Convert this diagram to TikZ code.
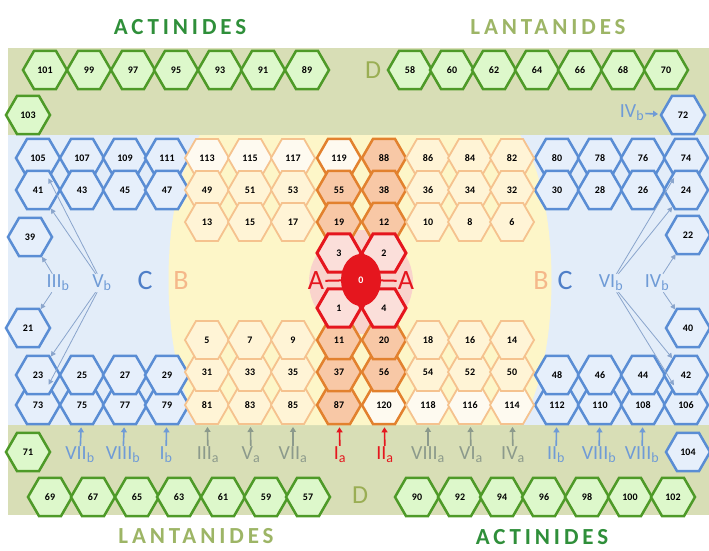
\documentclass[tikz,border=0pt]{standalone}
\usepackage{fontspec}
\setmainfont{Carlito}
\newfontfamily\titlefont[LetterSpace=17]{Carlito}
\usetikzlibrary{shapes.geometric,arrows.meta}

\definecolor{bandtan}{HTML}{D8DEB6}
\definecolor{bluezone}{HTML}{E3EDF9}
\definecolor{yellowzone}{HTML}{FDF6C8}
\definecolor{pinkzone}{HTML}{F9D3CC}
\definecolor{hexgreen}{HTML}{4E9A28}
\definecolor{hexgreenfill}{HTML}{DDF8CB}
\definecolor{hexblue}{HTML}{5A8DD4}
\definecolor{hexbluefill}{HTML}{E6EFFB}
\definecolor{orline}{HTML}{F5C28E}
\definecolor{orfill}{HTML}{FFF4D6}
\definecolor{orpalefill}{HTML}{FEFAF0}
\definecolor{darkorline}{HTML}{E2812E}
\definecolor{darkorfill}{HTML}{F8C8A6}
\definecolor{redline}{HTML}{E5161E}
\definecolor{redfill}{HTML}{FBDFDA}
\definecolor{actgreen}{HTML}{2F8F3A}
\definecolor{lantgreen}{HTML}{9DB566}
\definecolor{dolive}{HTML}{9AAE54}
\definecolor{lblblue}{HTML}{6F9BD6}
\definecolor{lblgrey}{HTML}{8C9A8C}
\definecolor{cblue}{HTML}{4F7FC8}
\definecolor{borange}{HTML}{F5B88A}
\definecolor{linkblue}{HTML}{8AA5CC}

\newcommand{\grp}[2]{#1\textsubscript{#2}}

\tikzset{
  hex/.style={regular polygon, regular polygon sides=6, minimum size=44pt,
    inner sep=0pt, line width=2.5pt, font=\bfseries\fontsize{10}{10}\selectfont},
  greenhex/.style={hex, draw=hexgreen, fill=hexgreenfill},
  bluehex/.style={hex, draw=hexblue, fill=hexbluefill},
  orhex/.style={hex, draw=orline, fill=orfill, line width=1.8pt},
  orpale/.style={orhex, fill=orpalefill},
  darkor/.style={hex, draw=darkorline, fill=darkorfill},
  darkorpale/.style={darkor, fill=orpalefill},
  redhex/.style={hex, draw=redline, fill=redfill, line width=3pt},
  title/.style={font=\titlefont\bfseries\fontsize{23}{23}\selectfont},
  grplabel/.style={font=\fontsize{20}{20}\selectfont, inner sep=1pt},
  biglabel/.style={font=\fontsize{28}{28}\selectfont, inner sep=1pt},
  uparrow/.style={-{Triangle[width=6pt,length=5pt]}, line width=1.6pt, shorten >=2pt},
  linkarrow/.style={-{Triangle[width=5pt,length=5pt]}, line width=0.8pt, draw=linkblue}
}

\begin{document}
\begin{tikzpicture}[x=1pt,y=-1pt]
\useasboundingbox (0,0) rectangle (709,550);

\fill[bandtan] (8,48) rectangle (709,515);
\fill[bluezone] (8,135) rectangle (709,425);
\fill[yellowzone] (200,135) .. controls (158,200) and (158,360) .. (200,425)
  -- (520,425) .. controls (562,360) and (562,200) .. (520,135) -- cycle;
\fill[pinkzone] (361,282) circle (52);

\node[title, text=actgreen] (actTop) at (180,27) {ACTINIDES};
\node[title, text=lantgreen] (lantTop) at (548,27) {LANTANIDES};
\node[title, text=lantgreen] (lantBot) at (196,536) {LANTANIDES};
\node[title, text=actgreen] (actBot) at (542,537) {ACTINIDES};

\node[greenhex] (n101) at (45,70) {101};
\node[greenhex] (n99) at (89,70) {99};
\node[greenhex] (n97) at (133,70) {97};
\node[greenhex] (n95) at (176,70) {95};
\node[greenhex] (n93) at (220,70) {93};
\node[greenhex] (n91) at (263,70) {91};
\node[greenhex] (n89) at (307,70) {89};
\node[greenhex] (n103) at (28,115) {103};

\node[greenhex] (n58) at (410,70) {58};
\node[greenhex] (n60) at (452,70) {60};
\node[greenhex] (n62) at (494,70) {62};
\node[greenhex] (n64) at (537,70) {64};
\node[greenhex] (n66) at (580,70) {66};
\node[greenhex] (n68) at (623,70) {68};
\node[greenhex] (n70) at (666,70) {70};

\node[greenhex] (n71) at (28,452) {71};
\node[greenhex] (n69) at (50,497) {69};
\node[greenhex] (n67) at (93,497) {67};
\node[greenhex] (n65) at (137,497) {65};
\node[greenhex] (n63) at (179,497) {63};
\node[greenhex] (n61) at (223,497) {61};
\node[greenhex] (n59) at (266,497) {59};
\node[greenhex] (n57) at (308,497) {57};

\node[greenhex] (n90) at (417,497) {90};
\node[greenhex] (n92) at (460,497) {92};
\node[greenhex] (n94) at (502,497) {94};
\node[greenhex] (n96) at (544,497) {96};
\node[greenhex] (n98) at (587,497) {98};
\node[greenhex] (n100) at (630,497) {100};
\node[greenhex] (n102) at (673,497) {102};

\node[text=dolive, font=\fontsize{26}{26}\selectfont] (dTop) at (373,70) {D};
\node[text=dolive, font=\fontsize{26}{26}\selectfont] (dBot) at (360,495) {D};

\node[bluehex] (n72) at (683,115) {72};
\node[grplabel, text=lblblue] (lIVbTop) at (632,113) {\grp{IV}{b}};

\node[bluehex] (n105) at (38,158) {105};
\node[bluehex] (n107) at (82,158) {107};
\node[bluehex] (n109) at (125,158) {109};
\node[bluehex] (n111) at (167,158) {111};
\node[bluehex] (n41) at (38,190) {41};
\node[bluehex] (n43) at (82,190) {43};
\node[bluehex] (n45) at (125,190) {45};
\node[bluehex] (n47) at (167,190) {47};
\node[bluehex] (n39) at (30,237) {39};
\node[bluehex] (n21) at (28,328) {21};
\node[bluehex] (n73) at (38,405) {73};
\node[bluehex] (n75) at (82,405) {75};
\node[bluehex] (n77) at (125,405) {77};
\node[bluehex] (n79) at (167,405) {79};
\node[bluehex] (n23) at (38,375) {23};
\node[bluehex] (n25) at (82,375) {25};
\node[bluehex] (n27) at (125,375) {27};
\node[bluehex] (n29) at (167,375) {29};

\node[bluehex] (n80) at (557,158) {80};
\node[bluehex] (n78) at (600,158) {78};
\node[bluehex] (n76) at (643,158) {76};
\node[bluehex] (n74) at (686,158) {74};
\node[bluehex] (n30) at (557,190) {30};
\node[bluehex] (n28) at (600,190) {28};
\node[bluehex] (n26) at (643,190) {26};
\node[bluehex] (n24) at (686,190) {24};
\node[bluehex] (n22) at (688,235) {22};
\node[bluehex] (n40) at (688,328) {40};
\node[bluehex] (n112) at (557,405) {112};
\node[bluehex] (n110) at (600,405) {110};
\node[bluehex] (n108) at (643,405) {108};
\node[bluehex] (n106) at (686,405) {106};
\node[bluehex] (n48) at (557,375) {48};
\node[bluehex] (n46) at (600,375) {46};
\node[bluehex] (n44) at (643,375) {44};
\node[bluehex] (n42) at (686,375) {42};
\node[bluehex] (n104) at (688,452) {104};

\node[orpale] (n113) at (207,158) {113};
\node[orpale] (n115) at (250,158) {115};
\node[orpale] (n117) at (293,158) {117};
\node[darkorpale] (n119) at (339,158) {119};
\node[darkor] (n88) at (384,158) {88};
\node[orhex] (n86) at (428,158) {86};
\node[orhex] (n84) at (470,158) {84};
\node[orhex] (n82) at (512,158) {82};

\node[orhex] (n49) at (207,190) {49};
\node[orhex] (n51) at (250,190) {51};
\node[orhex] (n53) at (293,190) {53};
\node[darkor] (n55) at (339,190) {55};
\node[darkor] (n38) at (384,190) {38};
\node[orhex] (n36) at (428,190) {36};
\node[orhex] (n34) at (470,190) {34};
\node[orhex] (n32) at (512,190) {32};

\node[orhex] (n13) at (207,222) {13};
\node[orhex] (n15) at (250,222) {15};
\node[orhex] (n17) at (293,222) {17};
\node[darkor] (n19) at (339,222) {19};
\node[darkor] (n12) at (384,222) {12};
\node[orhex] (n10) at (428,222) {10};
\node[orhex] (n8) at (470,222) {8};
\node[orhex] (n6) at (512,222) {6};

\node[orhex] (n81) at (207,405) {81};
\node[orhex] (n83) at (250,405) {83};
\node[orhex] (n85) at (293,405) {85};
\node[darkor] (n87) at (339,405) {87};
\node[darkorpale] (n120) at (384,405) {120};
\node[orpale] (n118) at (428,405) {118};
\node[orpale] (n116) at (470,405) {116};
\node[orpale] (n114) at (512,405) {114};

\node[orhex] (n31) at (207,372) {31};
\node[orhex] (n33) at (250,372) {33};
\node[orhex] (n35) at (293,372) {35};
\node[darkor] (n37) at (339,372) {37};
\node[darkor] (n56) at (384,372) {56};
\node[orhex] (n54) at (428,372) {54};
\node[orhex] (n52) at (470,372) {52};
\node[orhex] (n50) at (512,372) {50};

\node[orhex] (n5) at (207,340) {5};
\node[orhex] (n7) at (250,340) {7};
\node[orhex] (n9) at (293,340) {9};
\node[darkor] (n11) at (339,340) {11};
\node[darkor] (n20) at (384,340) {20};
\node[orhex] (n18) at (428,340) {18};
\node[orhex] (n16) at (470,340) {16};
\node[orhex] (n14) at (512,340) {14};

\node[redhex] (n3) at (339,253) {3};
\node[redhex] (n2) at (384,253) {2};
\node[redhex] (n1) at (339,308) {1};
\node[redhex] (n4) at (384,308) {4};
\node[ellipse, fill=redline, minimum width=40pt, minimum height=52pt, inner sep=0pt,
  text=white, font=\bfseries\fontsize{10}{10}\selectfont] (n0) at (361,280) {0};

\node[biglabel, text=redline] (lAL) at (316,281) {A};
\node[biglabel, text=redline] (lAR) at (406,281) {A};
\draw[redline, line width=2pt] (lAL) -- (n0);
\draw[redline, line width=2pt] (lAR) -- (n0);

\node[grplabel, text=lblblue] (lIIIb) at (58,283) {\grp{III}{b}};
\node[grplabel, text=lblblue] (lVb) at (102,283) {\grp{V}{b}};
\node[biglabel, text=cblue] (lCL) at (145,281) {C};
\node[biglabel, text=borange] (lBL) at (181,281) {B};
\node[biglabel, text=borange] (lBR) at (541,281) {B};
\node[biglabel, text=cblue] (lCR) at (565,281) {C};
\node[grplabel, text=lblblue] (lVIb) at (611,283) {\grp{VI}{b}};
\node[grplabel, text=lblblue] (lIVb) at (657,283) {\grp{IV}{b}};

\draw[linkarrow] (lIIIb) -- (n39);
\draw[linkarrow] (lIIIb) -- (n21);
\draw[linkarrow] (lVb) -- (n41);
\draw[linkarrow] (lVb) -- (n105);
\draw[linkarrow] (lVb) -- (n23);
\draw[linkarrow] (lVb) -- (n73);
\draw[linkarrow] (lIVb) -- (n22);
\draw[linkarrow] (lIVb) -- (n40);
\draw[linkarrow] (lVIb) -- (n24);
\draw[linkarrow] (lVIb) -- (n74);
\draw[linkarrow] (lVIb) -- (n42);
\draw[linkarrow] (lVIb) -- (n106);
\draw[uparrow, draw=lblblue] (lIVbTop) -- (n72);

\node[grplabel, text=lblblue] (gVIIb) at (80,455) {\grp{VII}{b}};
\node[grplabel, text=lblblue] (gVIIIbL) at (123,455) {\grp{VIII}{b}};
\node[grplabel, text=lblblue] (gIb) at (166,455) {\grp{I}{b}};
\node[grplabel, text=lblgrey] (gIIIa) at (208,455) {\grp{III}{a}};
\node[grplabel, text=lblgrey] (gVa) at (251,455) {\grp{V}{a}};
\node[grplabel, text=lblgrey] (gVIIa) at (293,455) {\grp{VII}{a}};
\node[grplabel, text=redline] (gIa) at (340,455) {\grp{I}{a}};
\node[grplabel, text=redline] (gIIa) at (385,455) {\grp{II}{a}};
\node[grplabel, text=lblgrey] (gVIIIa) at (428,455) {\grp{VIII}{a}};
\node[grplabel, text=lblgrey] (gVIa) at (471,455) {\grp{VI}{a}};
\node[grplabel, text=lblgrey] (gIVa) at (513,455) {\grp{IV}{a}};
\node[grplabel, text=lblblue] (gIIb) at (556,455) {\grp{II}{b}};
\node[grplabel, text=lblblue] (gVIIIbA) at (599,455) {\grp{VIII}{b}};
\node[grplabel, text=lblblue] (gVIIIbB) at (642,455) {\grp{VIII}{b}};

\draw[uparrow, draw=lblblue] (gVIIb) -- (n75);
\draw[uparrow, draw=lblblue] (gVIIIbL) -- (n77);
\draw[uparrow, draw=lblblue] (gIb) -- (n79);
\draw[uparrow, draw=lblgrey] (gIIIa) -- (n81);
\draw[uparrow, draw=lblgrey] (gVa) -- (n83);
\draw[uparrow, draw=lblgrey] (gVIIa) -- (n85);
\draw[uparrow, draw=redline] (gIa) -- (n87);
\draw[uparrow, draw=redline] (gIIa) -- (n120);
\draw[uparrow, draw=lblgrey] (gVIIIa) -- (n118);
\draw[uparrow, draw=lblgrey] (gVIa) -- (n116);
\draw[uparrow, draw=lblgrey] (gIVa) -- (n114);
\draw[uparrow, draw=lblblue] (gIIb) -- (n112);
\draw[uparrow, draw=lblblue] (gVIIIbA) -- (n110);
\draw[uparrow, draw=lblblue] (gVIIIbB) -- (n108);
\end{tikzpicture}
\end{document}
